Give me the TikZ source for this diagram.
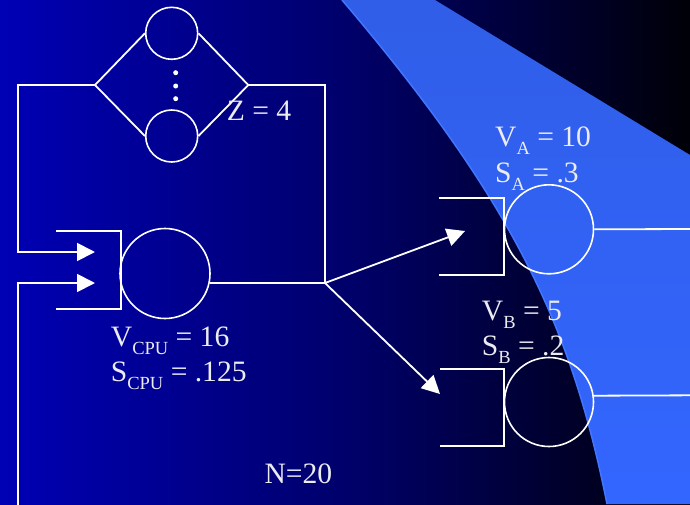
\documentclass[tikz,border=0pt]{standalone}
\usepackage{fontspec}
\setmainfont{Liberation Serif}
\usetikzlibrary{arrows.meta}
\pgfdeclarehorizontalshading{bgshade}{100bp}{rgb(0bp)=(0,0,0.71); rgb(25bp)=(0,0,0.71); rgb(50bp)=(0,0,0.42); rgb(75bp)=(0,0,0.03); rgb(100bp)=(0,0,0.03)}
\definecolor{band}{RGB}{51,102,255}
\definecolor{bandtop}{RGB}{48,94,232}
\definecolor{bandedge}{RGB}{66,118,255}
\definecolor{txt}{RGB}{235,235,240}
\tikzset{
 wire/.style={draw=white, line width=1.8pt},
 arr/.style={wire, -{Triangle[length=18pt,width=18pt]}},
 srv/.style={circle, draw=white, line width=1.6pt, inner sep=0pt},
 dotn/.style={circle, fill=white, inner sep=0pt, minimum size=5pt},
 lbl/.style={text=txt, inner sep=0pt, anchor=base west, font=\fontsize{29.6}{35}\selectfont},
}
\newcommand{\sbs}[1]{\raisebox{-8pt}{\fontsize{18.5}{18.5}\selectfont #1}}
\begin{document}
\begin{tikzpicture}[x=1pt,y=-1pt]
\useasboundingbox (0,0) rectangle (690,504);
\shade[shading=bgshade] (0,0) rectangle (690,504);
\shade[top color=bandtop, bottom color=band] (342,0) .. controls (512,200) and (571,324) .. (607,504) -- (690,504) -- (690,155) -- (435,0) -- cycle;
\draw[bandedge, line width=1.5pt] (342,0) .. controls (512,200) and (571,324) .. (607,504);

% servers
\node[srv, minimum size=52pt] (z1) at (171.7,33.3) {};
\node[srv, minimum size=52pt] (z2) at (171.7,136) {};
\node[srv, minimum size=90pt] (cpu) at (165,273.5) {};
\node[srv, minimum size=89pt] (da) at (549,229.3) {};
\node[srv, minimum size=89pt] (db) at (549,402) {};
\node[dotn] (d1) at (175.7,72.7) {};
\node[dotn] (d2) at (175.7,86) {};
\node[dotn] (d3) at (175.7,98.7) {};

% coordinates
\coordinate (zl) at (95,85);
\coordinate (zr) at (248.3,85);
\coordinate (lt) at (18,85);
\coordinate (lb) at (18,252);
\coordinate (t1) at (95,252);
\coordinate (rt) at (325,85);
\coordinate (j) at (325,283);
\coordinate (bb) at (18,506);
\coordinate (bm) at (18,283);
\coordinate (t2) at (95,283);
\coordinate (ta) at (465,231);
\coordinate (tb) at (440,394);
\coordinate (ea) at (692,229);
\coordinate (eb) at (692,395.3);
\coordinate (qc1) at (56,231);
\coordinate (qc2) at (121,231);
\coordinate (qc3) at (121,309);
\coordinate (qc4) at (56,309);
\coordinate (qa1) at (439,197.7);
\coordinate (qa2) at (504,197.7);
\coordinate (qa3) at (504,274.7);
\coordinate (qa4) at (439,274.7);
\coordinate (qb1) at (440,369.3);
\coordinate (qb2) at (504,369.3);
\coordinate (qb3) at (504,446);
\coordinate (qb4) at (440,446);

% think-time diamond
\draw[wire] (zl) -- (z1.west);
\draw[wire] (zl) -- (z2.west);
\draw[wire] (zr) -- (z1.east);
\draw[wire] (zr) -- (z2.east);

% loops
\draw[arr] (zl) -- (lt) -- (lb) -- (t1);
\draw[arr] (bb) -- (bm) -- (t2);
\draw[wire] (zr) -- (rt) -- (j);
\draw[wire] (cpu.-12) -- (j);
\draw[arr] (j) -- (ta);
\draw[arr] (j) -- (tb);
\draw[wire] (da.east) -- (ea);
\draw[wire] (db.8) -- (eb);

% queues
\draw[wire] (qc1) -- (qc2) -- (qc3) -- (qc4);
\draw[wire] (qa1) -- (qa2) -- (qa3) -- (qa4);
\draw[wire] (qb1) -- (qb2) -- (qb3) -- (qb4);

% labels
\node[lbl] (zt) at (226.7,120.7) {Z = 4};
\node[lbl] (vcpu) at (110.7,346) {V\sbs{CPU} = 16};
\node[lbl] (scpu) at (110.7,381.7) {S\sbs{CPU} = .125};
\node[lbl] (va) at (495,146.7) {V\sbs{A} = 10};
\node[lbl] (sa) at (495,182.7) {S\sbs{A} = .3};
\node[lbl] (vb) at (481.7,320) {V\sbs{B} = 5};
\node[lbl] (sb) at (481.7,355) {S\sbs{B} = .2};
\node[lbl] (n) at (264.3,483.3) {N=20};
\end{tikzpicture}
\end{document}
